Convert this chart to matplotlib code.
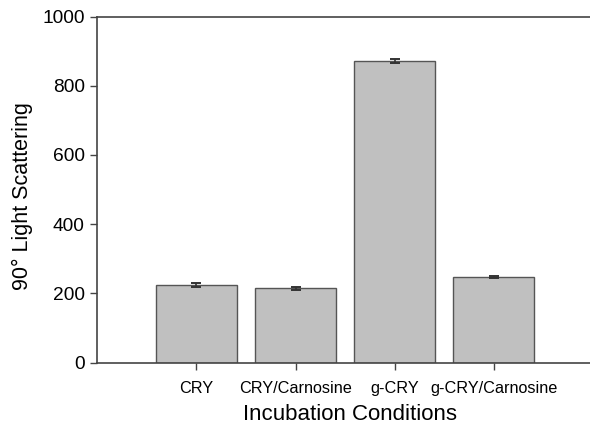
import matplotlib
matplotlib.use("Agg")
import matplotlib.pyplot as plt
import numpy as np

# values
conditions = ["CRY", "CRY/Carnosine", "g-CRY", "g-CRY/Carnosine"]
scattering = [224, 214, 871, 247]
errors = [5, 4, 5, 3]
y_ticks = [0, 200, 400, 600, 800, 1000]

plt.rcParams["font.family"] = ["Liberation Sans", "DejaVu Sans"]

fig = plt.figure(figsize=(5.9, 4.25), dpi=100)
ax = fig.add_axes([0.165, 0.147, 0.835, 0.814])

x = np.arange(len(conditions))
ax.bar(x, scattering, width=0.82, color="#c0c0c0", edgecolor="#555555",
       linewidth=1.0, zorder=2)
ax.errorbar(x, scattering, yerr=errors, fmt="none", ecolor="#333333",
            elinewidth=1.2, capsize=3.6, capthick=1.4, zorder=3)

ax.set_xlim(-1.0, 3.97)
ax.set_ylim(0, 1000)
ax.set_yticks(y_ticks)
ax.set_xticks(x)
ax.set_xticklabels(conditions, fontsize=11.7)
ax.tick_params(axis="y", labelsize=13.8, length=5, width=1.0, pad=4,
               color="#444444")
ax.tick_params(axis="x", length=5, width=1.0, pad=8, color="#444444")

for side in ["left", "top", "bottom"]:
    ax.spines[side].set_color("#444444")
    ax.spines[side].set_linewidth(1.2)
ax.spines["right"].set_visible(False)

ax.set_ylabel("90° Light Scattering", fontsize=15.5)
ax.yaxis.set_label_coords(-0.131, 0.48)
ax.set_xlabel("Incubation Conditions", fontsize=16)
ax.xaxis.set_label_coords(0.513, -0.12)

fig.savefig("out.png", dpi=100)
